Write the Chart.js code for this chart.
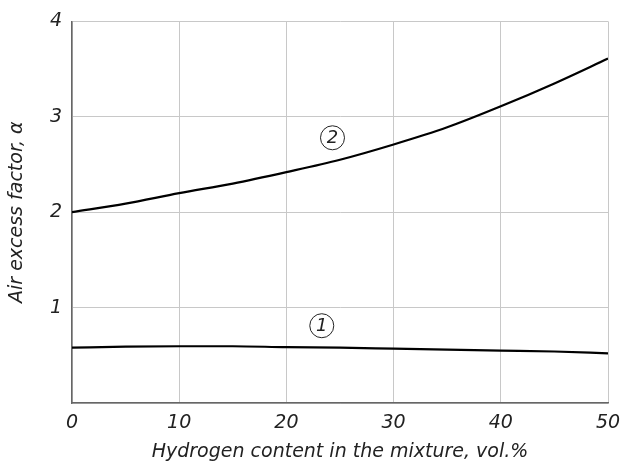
<!DOCTYPE html>
<html>
<head>
<meta charset="utf-8">
<script src="https://cdn.jsdelivr.net/npm/chart.js@4.4.0/dist/chart.umd.min.js"></script>
<style>
  html, body { margin: 0; padding: 0; background: #fff; }
  #wrap { width: 627px; height: 463px; }
</style>
</head>
<body>
<div id="wrap"><canvas id="chart" width="627" height="463"></canvas></div>
<script>
const hydrogen = [0, 5, 10, 15, 20, 25, 30, 35, 40, 45, 50];
const curve1 = [0.58, 0.59, 0.595, 0.595, 0.585, 0.58, 0.57, 0.56, 0.55, 0.54, 0.52];
const curve2 = [2.0, 2.09, 2.2, 2.3, 2.42, 2.55, 2.71, 2.89, 3.11, 3.35, 3.61];
const curveTags = ["1", "2"];
const tagX = [23.3, 24.3];
const tagY = [0.81, 2.78];

const FONT = "'DejaVu Sans', sans-serif";

// circled curve numbers
const tagPlugin = {
  id: "tags",
  afterDatasetsDraw(c) {
    const ctx = c.ctx;
    const xs = c.scales.x, ys = c.scales.y;
    ctx.save();
    for (let i = 0; i < curveTags.length; i++) {
      const px = xs.getPixelForValue(tagX[i]);
      const py = ys.getPixelForValue(tagY[i]);
      ctx.beginPath();
      ctx.arc(px, py, 12, 0, Math.PI * 2);
      ctx.lineWidth = 1;
      ctx.strokeStyle = "#222";
      ctx.stroke();
      ctx.fillStyle = "#222";
      ctx.font = "italic 18px " + FONT;
      ctx.textAlign = "center";
      ctx.textBaseline = "middle";
      ctx.fillText(curveTags[i], px, py + 1);
    }
    ctx.restore();
  }
};

new Chart(document.getElementById("chart"), {
  type: "line",
  data: {
    labels: hydrogen,
    datasets: [
      { data: curve1, borderColor: "#000", borderWidth: 2.2, pointRadius: 0, cubicInterpolationMode: "monotone" },
      { data: curve2, borderColor: "#000", borderWidth: 2.2, pointRadius: 0, cubicInterpolationMode: "monotone" }
    ]
  },
  options: {
    responsive: false,
    animation: false,
    layout: { padding: { top: 19, right: 19, left: 0, bottom: 0 } },
    plugins: { legend: { display: false }, tooltip: { enabled: false } },
    scales: {
      x: {
        type: "linear",
        min: 0, max: 50,
        ticks: { stepSize: 10, color: "#222", font: { family: FONT, size: 19, style: "italic" }, padding: 9 },
        grid: { color: "#c8c8c8", lineWidth: 1, drawTicks: false },
        border: { color: "#666", width: 1.5 },
        title: { display: true, text: "Hydrogen content in the mixture, vol.%", color: "#222",
                 font: { family: FONT, size: 19, style: "italic" }, padding: { top: 4, bottom: 0 } },
        afterFit(s) { s.height = 60; s.paddingRight = 0; }
      },
      y: {
        min: 0, max: 4,
        ticks: { stepSize: 1, color: "#222", font: { family: FONT, size: 19, style: "italic" }, padding: 10,
                 callback: v => v === 0 ? "" : v },
        grid: { color: "#c8c8c8", lineWidth: 1, drawTicks: false },
        border: { color: "#666", width: 1.5 },
        title: { display: true, text: "Air excess factor, α", color: "#222",
                 font: { family: FONT, size: 19, style: "italic" }, padding: { top: 6, bottom: 0 } },
        afterFit(s) { s.width = 72; }
      }
    }
  },
  plugins: [tagPlugin]
});
</script>
</body>
</html>
